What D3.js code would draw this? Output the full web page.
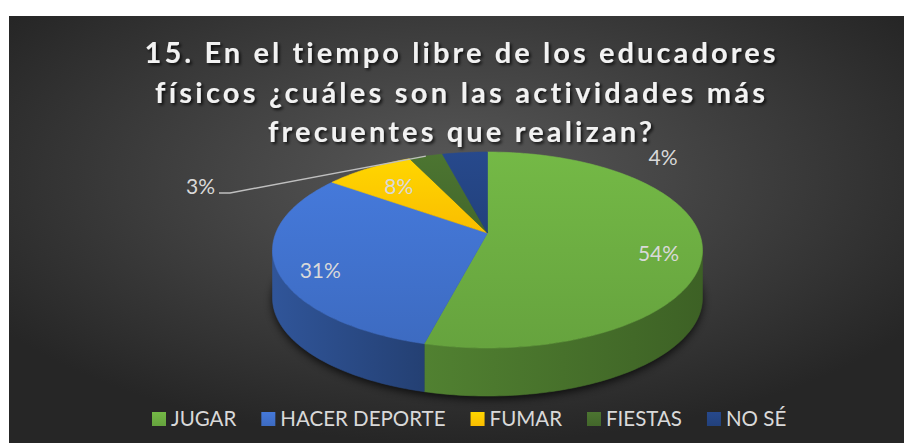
<!DOCTYPE html>
<html>
<head>
<meta charset="utf-8">
<script src="https://cdn.jsdelivr.net/npm/d3@7/dist/d3.min.js"></script>
<style>
  body { margin: 0; background: #fff; }
  svg { display: block; }
  text { font-family: Lato, "Open Sans", sans-serif; font-variant-ligatures: none; }
</style>
</head>
<body>
<svg id="chart" width="904" height="443"></svg>
<script>
const titleLines = [
  "15. En el tiempo libre de los educadores",
  "físicos ¿cuáles son las actividades más",
  "frecuentes que realizan?"
];
const titleWidths = [631, 610, 384];
const categories = ["JUGAR", "HACER DEPORTE", "FUMAR", "FIESTAS", "NO SÉ"];
const values = [54, 31, 8, 3, 4];
const colors = ["#68a63f", "#3e6dc4", "#ffc000", "#44692c", "#23427e"];

const W = 904, H = 443;
const svg = d3.select("#chart");
const defs = svg.append("defs");

// background
const bg = defs.append("radialGradient").attr("id", "bg")
  .attr("cx", "50%").attr("cy", "38%").attr("r", "62%");
bg.append("stop").attr("offset", "0%").attr("stop-color", "#595959");
bg.append("stop").attr("offset", "100%").attr("stop-color", "#262626");
svg.append("rect").attr("x", 9).attr("y", 16).attr("width", W - 9).attr("height", H - 16)
  .attr("fill", "url(#bg)");

// filters
const shadow = defs.append("filter").attr("id", "blur").attr("x", "-20%").attr("y", "-20%")
  .attr("width", "140%").attr("height", "140%");
shadow.append("feGaussianBlur").attr("stdDeviation", 4);

const ts = defs.append("filter").attr("id", "tshadow").attr("x", "-5%").attr("y", "-30%")
  .attr("width", "110%").attr("height", "160%");
ts.append("feDropShadow").attr("dx", 2).attr("dy", 2).attr("stdDeviation", 1.5)
  .attr("flood-color", "#000").attr("flood-opacity", 0.75);

// title
svg.append("g").selectAll("text").data(titleLines).join("text")
  .attr("x", 460)
  .attr("y", (d, i) => 63 + i * 39.5)
  .attr("text-anchor", "middle")
  .attr("fill", "#f2f2f2")
  .attr("font-size", 29)
  .attr("font-weight", "bold")
  .attr("textLength", (d, i) => titleWidths[i])
  .attr("lengthAdjust", "spacing")
  .attr("filter", "url(#tshadow)")
  .text(d => d);

// 3D pie projection (perspective-ish)
const CX = 487.5, CY = 233, AX = 211.7, BY = 95.05, PC = 0.1735, DEPTH = 48;
function proj(a, k = 1, drop = 0) {
  const u = k * Math.sin(a), v = k * Math.cos(a);
  const w = 1 + PC * v;
  return [CX + AX * u / w, CY - BY * v / w + drop];
}
function arcPts(a0, a1, drop) {
  const n = Math.max(2, Math.ceil(Math.abs(a1 - a0) / 0.02));
  return d3.range(n + 1).map(i => proj(a0 + (a1 - a0) * i / n, 1, drop));
}
const line = d3.line();

const pie = d3.pie().sort(null).value(d => d);
const arcs = pie(values).map((d, i) => ({ ...d, i }));

// gradients per slice
function shade(c, k) { return d3.color(c).darker(k).formatHex(); }
function tint(c, k) { return d3.color(c).brighter(k).formatHex(); }
arcs.forEach(d => {
  const c = colors[d.i];
  const gt = defs.append("linearGradient").attr("id", "top" + d.i)
    .attr("x1", 0).attr("y1", 0).attr("x2", 0).attr("y2", 1);
  gt.append("stop").attr("offset", "0%").attr("stop-color", tint(c, 0.3));
  gt.append("stop").attr("offset", "100%").attr("stop-color", shade(c, 0.05));
  const gs = defs.append("linearGradient").attr("id", "side" + d.i)
    .attr("x1", 0).attr("y1", 0).attr("x2", 1).attr("y2", 0);
  gs.append("stop").attr("offset", "0%").attr("stop-color", shade(c, 0.7));
  gs.append("stop").attr("offset", "100%").attr("stop-color", shade(c, 1.5));
});

const tL = Math.acos(-PC), tR = 2 * Math.PI - tL;

// drop shadow
const full = arcPts(0, 2 * Math.PI, DEPTH + 3);
svg.append("path").attr("d", line(full) + "Z")
  .attr("fill", "#000").attr("opacity", 0.75).attr("filter", "url(#blur)");

// sides
const sides = svg.append("g");
arcs.forEach(d => {
  const a0 = Math.max(d.startAngle, tL), a1 = Math.min(d.endAngle, tR);
  if (a1 <= a0) return;
  const pts = arcPts(a0, a1, 0).concat(arcPts(a1, a0, DEPTH));
  sides.append("path").attr("d", line(pts) + "Z")
    .attr("fill", `url(#side${d.i})`)
    .attr("stroke", `url(#side${d.i})`).attr("stroke-width", 0.6);
});

// tops
const tops = svg.append("g");
arcs.forEach(d => {
  const pts = [[CX, CY]].concat(arcPts(d.startAngle, d.endAngle, 0));
  tops.append("path").attr("d", line(pts) + "Z")
    .attr("fill", `url(#top${d.i})`)
    .attr("stroke", `url(#top${d.i})`).attr("stroke-width", 0.6);
});

// data labels
const labelColor = "#d9d9d9";
const fmt = d3.format(".0%");
const labels = svg.append("g").attr("fill", labelColor).attr("font-size", 21)
  .attr("text-anchor", "middle");
arcs.filter(d => d.value >= 5).forEach(d => {
  const mid = (d.startAngle + d.endAngle) / 2;
  const k = d.value > 20 ? 0.8 : 0.72;
  const drop = d.value > 20 ? 11 : 2;
  const p = proj(mid, k, drop);
  labels.append("text").attr("x", p[0]).attr("y", p[1] + 7).text(fmt(d.value / 100));
});

// outside labels (FIESTAS with leader line, NO SÉ at upper right)
const fiestas = arcs[3];
const fm = proj((fiestas.startAngle + fiestas.endAngle) / 2, 1, 0);
svg.append("path")
  .attr("d", line([[219, 193], [230, 193], fm]))
  .attr("fill", "none").attr("stroke", "#bfbfbf").attr("stroke-width", 1.5);
labels.append("text").attr("x", 215).attr("y", 194).attr("text-anchor", "end")
  .text(fmt(fiestas.value / 100));
const nose = arcs[4];
labels.append("text").attr("x", 663).attr("y", 165).text(fmt(nose.value / 100));

// legend
const legend = svg.append("g").attr("font-size", 20.5).attr("fill", labelColor);
let lx = 152;
categories.forEach((c, i) => {
  legend.append("rect").attr("x", lx).attr("y", 412).attr("width", 14).attr("height", 14)
    .attr("fill", `url(#top${i})`);
  const t = legend.append("text").attr("x", lx + 19).attr("y", 426).text(c);
  lx += 19 + t.node().getComputedTextLength() + 25;
});
</script>
</body>
</html>
